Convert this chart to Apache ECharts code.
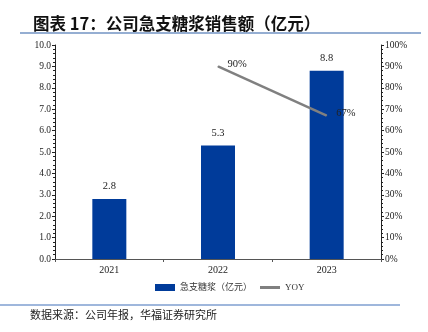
<!DOCTYPE html>
<html><head><meta charset="utf-8">
<script src="https://cdn.jsdelivr.net/npm/echarts@6/dist/echarts.min.js"></script>
<style>html,body{margin:0;padding:0;background:#fff}#c{width:428px;height:332px}</style>
</head><body><div id="c"></div>
<script>
const categories = ['2021', '2022', '2023'];
const sales = [2.8, 5.3, 8.8];
const yoy = [null, 90, 67];
const leftTicks = [0, 10, 1];
const rightTicks = [0, 100, 10];

const chart = echarts.init(document.getElementById('c'));
const serif = '"Liberation Serif","Times New Roman",serif';
chart.setOption({
  animation: false,
  title: {
    text: '图表 17：公司急支糖浆销售额（亿元）',
    left: 28, top: 10,
    textStyle: {fontFamily: '"Noto Sans CJK SC", sans-serif', fontWeight: 'bold', fontSize: 16.5, color: '#111'}
  },
  graphic: [
    {type: 'line', shape: {x1: 20, y1: 33, x2: 421, y2: 33}, style: {stroke: '#2d5fa6', lineWidth: 1.2}},
    {type: 'line', shape: {x1: 0, y1: 305, x2: 400, y2: 305}, style: {stroke: '#7f9fd0', lineWidth: 1.5}},
    {type: 'text', left: 30, top: 309, style: {text: '数据来源：公司年报，华福证券研究所', font: '11px "Noto Sans CJK SC", sans-serif', fill: '#222'}}
  ],
  legend: {
    bottom: 35, left: 150,
    itemWidth: 20, itemHeight: 7, itemGap: 8,
    textStyle: {fontSize: 9, fontFamily: serif + ',"Noto Sans CJK SC"', color: '#333'},
    data: [{name: '急支糖浆（亿元）', icon: 'rect'}, {name: 'YOY', icon: 'path://M0,0 L20,0 L20,3 L0,3 Z', itemStyle: {color: '#808080', opacity: 1}}]
  },
  grid: {left: 55, right: 47, top: 45, bottom: 73},
  xAxis: {
    type: 'category', data: categories,
    axisLine: {lineStyle: {color: '#555'}},
    axisTick: {show: true, alignWithLabel: false, length: 3, lineStyle: {color: '#555'}},
    axisLabel: {fontFamily: serif, fontSize: 10, color: '#222', margin: 6}
  },
  yAxis: [
    {type: 'value', min: leftTicks[0], max: leftTicks[1], interval: leftTicks[2],
     axisLine: {show: true, lineStyle: {color: '#222'}},
     axisTick: {show: true, length: 3, lineStyle: {color: '#222'}},
     minorTick: {show: true, splitNumber: 5, length: 2, lineStyle: {color: '#222'}},
     splitLine: {show: false},
     axisLabel: {fontFamily: serif, fontSize: 9.5, color: '#222', margin: 4, formatter: v => v.toFixed(1)}},
    {type: 'value', min: rightTicks[0], max: rightTicks[1], interval: rightTicks[2],
     axisLine: {show: true, lineStyle: {color: '#222'}},
     axisTick: {show: true, length: 3, lineStyle: {color: '#222'}},
     minorTick: {show: true, splitNumber: 5, length: 2, lineStyle: {color: '#222'}},
     splitLine: {show: false},
     axisLabel: {fontFamily: serif, fontSize: 9.5, color: '#222', margin: 4, formatter: v => v + '%'}}
  ],
  series: [
    {name: '急支糖浆（亿元）', type: 'bar', data: sales, barWidth: 34,
     itemStyle: {color: '#003b9a'},
     label: {show: true, position: 'top', distance: 7, fontFamily: serif, fontSize: 10.5, color: '#222', formatter: p => p.value.toFixed(1)}},
    {name: 'YOY', type: 'line', yAxisIndex: 1, data: yoy, symbol: 'circle', symbolSize: 1, showSymbol: true, connectNulls: false,
     lineStyle: {color: '#808080', width: 2.5}, itemStyle: {color: '#808080'},
     label: {show: true, position: 'right', distance: 9, offset: [0, -2], fontFamily: serif, fontSize: 10.5, color: '#222', formatter: p => p.value + '%'}}
  ]
});
</script></body></html>
